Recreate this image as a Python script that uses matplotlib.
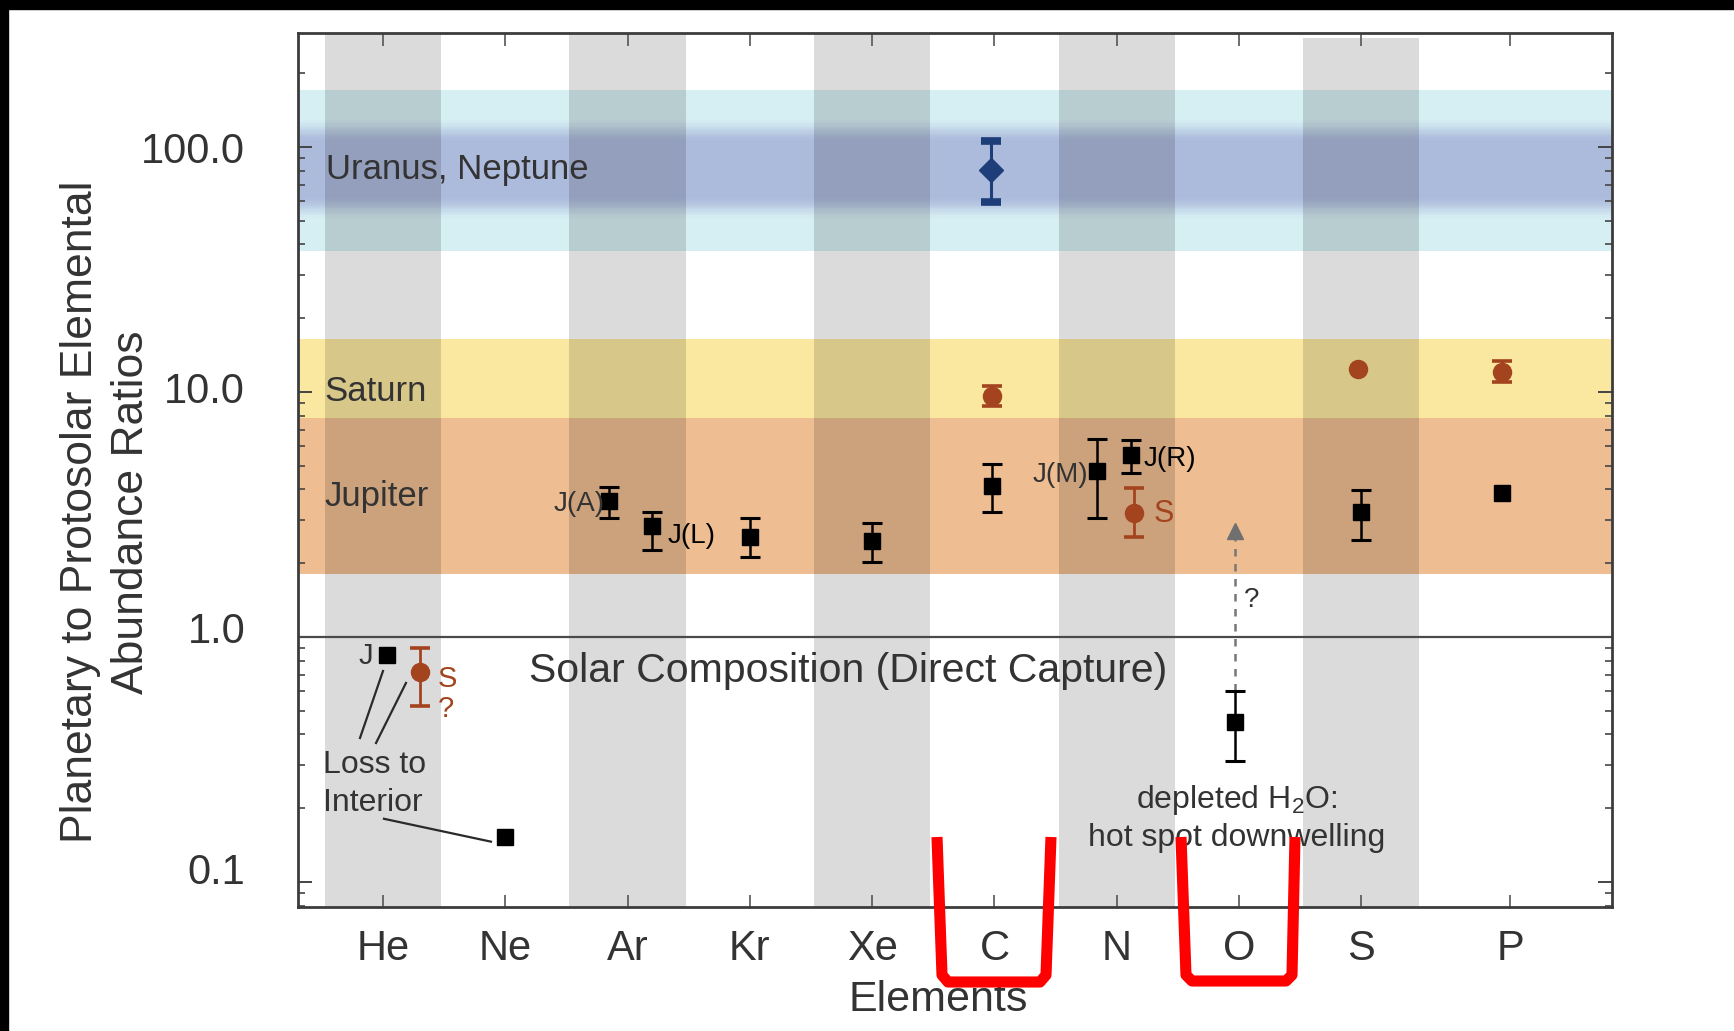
import numpy as np
import matplotlib
matplotlib.use("Agg")
import matplotlib.pyplot as plt
from matplotlib.patches import Rectangle
from matplotlib.lines import Line2D
from matplotlib.transforms import ScaledTranslation

plt.rcParams["font.family"] = ["Liberation Sans", "DejaVu Sans"]
plt.rcParams["mathtext.default"] = "regular"

# ---- data ----
elements = ["He", "Ne", "Ar", "Kr", "Xe", "C", "N", "O", "S", "P"]
element_x = [1, 2, 3, 4, 5, 6, 7, 8, 9, 10.22]
shaded = ["He", "Ar", "Xe", "N", "S"]

# Jupiter (black squares); nan = no error bar
jup_elem = ["He", "Ne", "Ar", "Ar", "Kr", "Xe", "C", "N", "N", "O", "S", "P"]
jup_dx = [0.03, 0.0, -0.15, 0.2, 0.0, 0.0, -0.02, -0.16, 0.12, -0.03, 0.0, -0.07]
jup_val = [0.845, 0.152, 3.59, 2.83, 2.57, 2.47, 4.15, 4.75, 5.55, 0.448, 3.23, 3.86]
jup_lo = [np.nan, np.nan, 3.07, 2.27, 2.13, 2.03, 3.23, 3.07, 4.65, 0.311, 2.49, np.nan]
jup_hi = [np.nan, np.nan, 4.11, 3.23, 3.07, 2.91, 5.06, 6.42, 6.35, 0.600, 3.98, np.nan]

# Saturn (brown circles)
sat_elem = ["He", "C", "N", "S", "P"]
sat_dx = [0.3, -0.02, 0.14, -0.03, -0.07]
sat_val = [0.716, 9.63, 3.20, 12.36, 12.1]
sat_lo = [0.524, 8.77, 2.55, np.nan, 11.0]
sat_hi = [0.90, 10.57, 4.06, np.nan, 13.43]

# Uranus / Neptune (navy diamond)
ice_elem = ["C"]
ice_dx = [-0.03]
ice_val = [80.3]
ice_lo = [59.4]
ice_hi = [106.3]

# enrichment ranges
jupiter_band = (1.81, 7.83)
saturn_band = (7.83, 16.4)
ice_band = (37.6, 171.5)
ice_core_log = 1.91

oxygen_arrow_tip = 2.71

ex = dict(zip(elements, element_x))


def positions(elems, dx):
    return np.array([ex[e] for e in elems]) + np.array(dx)


fig = plt.figure(figsize=(17.34, 10.31), dpi=100)
fig.patch.set_facecolor("white")
ax = fig.add_axes([298 / 1734, 1 - 907 / 1031, (1612 - 298) / 1734, (907 - 33) / 1031])
ax.set_yscale("log")
ax.set_xlim(0.305, 11.05)
ax.set_ylim(0.079, 292)

# horizontal bands
ax.axhspan(*jupiter_band, color="#eebd92", lw=0, zorder=0)
ax.axhspan(*saturn_band, color="#fbe8a0", lw=0, zorder=0)
cyan = np.array([214, 239, 243]) / 255
blue = np.array([172, 186, 220]) / 255
edges = np.linspace(np.log10(ice_band[0]), np.log10(ice_band[1]), 140)
for a, b in zip(edges[:-1], edges[1:]):
    d = abs(0.5 * (a + b) - ice_core_log)
    t = np.clip((0.21 - d) / 0.1, 0, 1)
    t = t * t * (3 - 2 * t)
    ax.axhspan(10 ** a, 10 ** b, color=cyan * (1 - t) + blue * t, lw=0,
               antialiased=False, zorder=0)

# gray element columns
for e in shaded:
    top = 1 - 5 / 874 if e == "S" else 1
    ax.axvspan(ex[e] - 0.475, ex[e] + 0.475, ymax=top, color="black", alpha=0.14,
               lw=0, zorder=1)

ax.axhline(1.0, color="#4a4a4a", lw=1.6, zorder=2)

# Jupiter
jx = positions(jup_elem, jup_dx)
jv = np.array(jup_val)
jl = np.array(jup_lo)
jh = np.array(jup_hi)
m = ~np.isnan(jl)
ax.errorbar(jx[m], jv[m], yerr=[jv[m] - jl[m], jh[m] - jv[m]], fmt="none",
            ecolor="black", elinewidth=1.8, capsize=7, capthick=2.2, zorder=4)
ax.plot(jx, jv, "s", color="black", ms=11, zorder=5)

# Saturn
sx = positions(sat_elem, sat_dx)
sv = np.array(sat_val)
sl = np.array(sat_lo)
sh = np.array(sat_hi)
m = ~np.isnan(sl)
sat_color = "#a3441e"
ax.errorbar(sx[m], sv[m], yerr=[sv[m] - sl[m], sh[m] - sv[m]], fmt="none",
            ecolor=sat_color, elinewidth=2, capsize=7, capthick=2.6, zorder=4)
ax.plot(sx, sv, "o", color=sat_color, ms=13, zorder=5)

# Uranus / Neptune
ix = positions(ice_elem, ice_dx)
iv = np.array(ice_val)
ax.errorbar(ix, iv, yerr=[iv - np.array(ice_lo), np.array(ice_hi) - iv], fmt="D",
            color="#1d3e78", ms=12, elinewidth=2.2, capsize=7.5, capthick=5.5, zorder=5)

# oxygen arrow
ox = positions(["O"], [-0.03])[0]
ax.plot([ox, ox], [jup_hi[9], oxygen_arrow_tip * 0.93], ls=(0, (3, 3)), color="#777777",
        lw=1.8, zorder=3)
ax.plot([ox], [oxygen_arrow_tip], "^", color="#707070", ms=11, zorder=3)

# leader lines for He / Ne
for (x0, y0), (x1, y1) in [((0.812, 0.387), (1.0, 0.726)),
                           ((0.943, 0.369), (1.188, 0.649)),
                           ((1.008, 0.181), (1.883, 0.146))]:
    ax.plot([x0, x1], [y0, y1], color="#2a2a2a", lw=1.6, zorder=3)

# text labels
tc = "#333333"
ax.text(0.53, 81.0, "Uranus, Neptune", fontsize=25, color=tc, va="center", zorder=6)
ax.text(0.52, 10.05, "Saturn", fontsize=25, color=tc, va="center", zorder=6)
ax.text(0.52, 3.75, "Jupiter", fontsize=25, color=tc, va="center", zorder=6)
ax.text(2.19, 0.725, "Solar Composition (Direct Capture)", fontsize=29.5, color=tc,
        va="center", zorder=6)
ax.text(2.81, 3.48, "J(A)", fontsize=20, color=tc, ha="right", va="center", zorder=6)
ax.text(3.33, 2.58, "J(L)", fontsize=20, color="black", va="center", zorder=6)
ax.text(0.86, 0.835, "J", fontsize=21, color=tc, ha="center", va="center", zorder=6)
ax.text(1.45, 0.672, "S", fontsize=21, color=sat_color, va="center", zorder=6)
ax.text(1.45, 0.509, "?", fontsize=21, color=sat_color, va="center", zorder=6)
ax.text(6.77, 4.6, "J(M)", fontsize=20, color=tc, ha="right", va="center", zorder=6)
ax.text(7.22, 5.33, "J(R)", fontsize=20, color="black", va="center", zorder=6)
ax.text(7.30, 3.17, "S", fontsize=22, color=sat_color, va="center", zorder=6)
ax.text(8.04, 1.42, "?", fontsize=20, color=tc, va="center", zorder=6)
ax.text(0.51, 0.30, "Loss to", fontsize=23, color=tc, va="center", zorder=6)
ax.text(0.51, 0.209, "Interior", fontsize=23, color=tc, va="center", zorder=6)
ax.text(7.98, 0.2165, "depleted H$_2$O:", fontsize=23, color=tc, ha="center",
        va="center", zorder=6)
ax.text(7.98, 0.151, "hot spot downwelling", fontsize=23, color=tc, ha="center",
        va="center", zorder=6)

# axes styling
for s in ax.spines.values():
    s.set_color("#3c3c3c")
    s.set_linewidth(2)
ax.set_xticks(element_x)
ax.set_xticklabels(elements, fontsize=30, color=tc)
ax.set_yticks([0.1, 1, 10, 100])
ax.set_yticklabels(["0.1", "1.0", "10.0", "100.0"], fontsize=30, color=tc)
ax.tick_params(axis="x", which="major", direction="in", top=True, length=9,
               width=1.2, color="#555555", pad=16)
ax.tick_params(axis="y", which="major", direction="in", right=True, length=10,
               width=1.4, color="#444444", pad=38)
ax.tick_params(axis="y", which="minor", direction="in", right=True, length=5,
               width=1.2, color="#444444")

# the y labels in the original sit slightly above their ticks
for lab, dy in zip(ax.get_yticklabels(), [9.4, 6.5, 2.9, 0.0]):
    lab.set_transform(lab.get_transform() + ScaledTranslation(0, dy / 72, fig.dpi_scale_trans))

fig.text(938 / 1734, 1 - 1000 / 1031, "Elements", fontsize=31, color=tc,
         ha="center", va="center")

fig.text(106 / 1734, 1 - 512 / 1031,
         "Planetary to Protosolar Elemental\nAbundance Ratios", fontsize=32,
         color=tc, rotation=90, ha="center", va="center", multialignment="center",
         linespacing=1.3)

# black frame strips at top and left edge
fig.patches.append(Rectangle((0, 1 - 9 / 1031), 1, 9 / 1031, transform=fig.transFigure,
                             color="black", zorder=10))
fig.patches.append(Rectangle((0, 0), 8 / 1734, 1, transform=fig.transFigure,
                             color="black", zorder=10))

# red highlight brackets around C and O
red_marks = [
    [(937, 837), (942, 975), (948, 982), (1040, 982), (1046, 975), (1051, 837)],
    [(1181, 837), (1186, 975), (1192, 981), (1286, 981), (1292, 975), (1295, 837)],
]
for pts in red_marks:
    xs = [p[0] / 1734 for p in pts]
    ys = [1 - p[1] / 1031 for p in pts]
    fig.add_artist(Line2D(xs, ys, color="#ff0000", lw=8, solid_joinstyle="round",
                          solid_capstyle="butt", transform=fig.transFigure, zorder=11))

fig.savefig("out.png", dpi=100)
